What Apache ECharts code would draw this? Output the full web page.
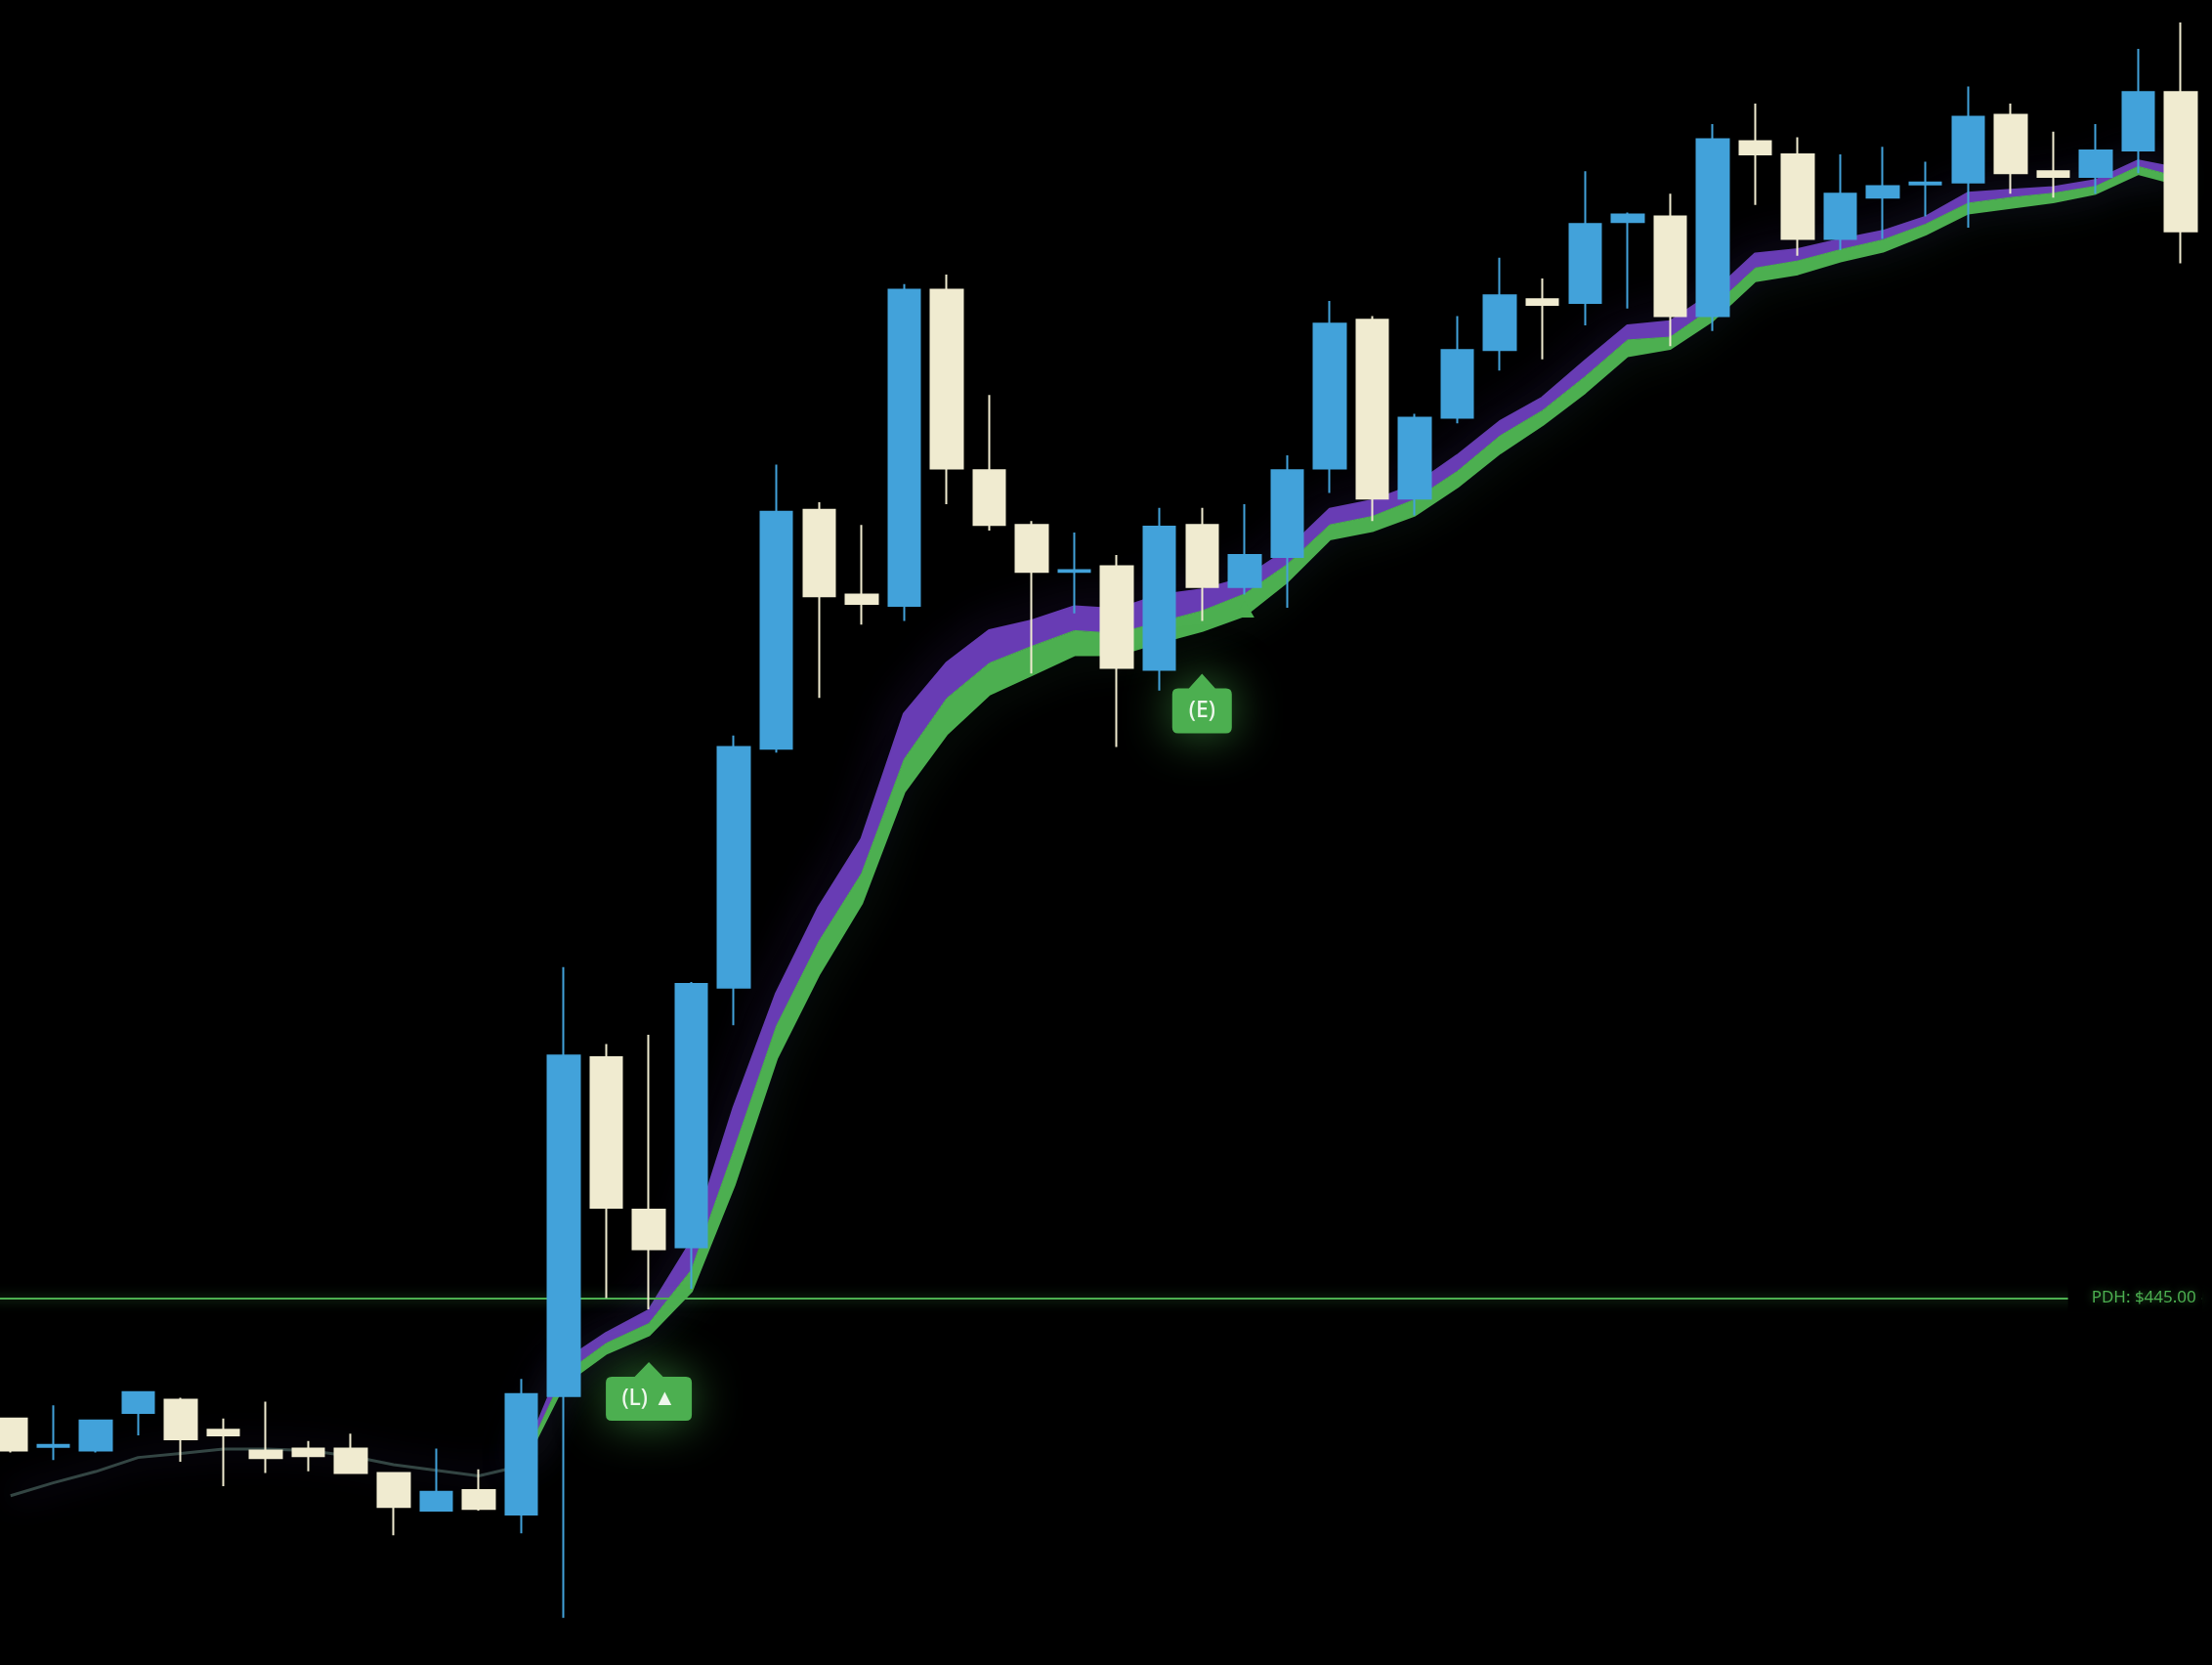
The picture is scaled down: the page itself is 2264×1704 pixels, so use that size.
<!DOCTYPE html>
<html>
<head>
<meta charset="utf-8">
<script src="https://cdn.jsdelivr.net/npm/echarts@6/dist/echarts.min.js"></script>
<style>
html,body{margin:0;padding:0;background:#000;overflow:hidden;width:2264px;height:1704px;}
#c{position:absolute;left:-11px;top:0;width:2275px;height:1704px;}
</style>
</head>
<body>
<div id="c"></div>
<script>
// ---- data ----
const categories = ['1','2','3','4','5','6','7','8','9','10','11','12','13','14','15','16','17','18','19','20',
  '21','22','23','24','25','26','27','28','29','30','31','32','33','34','35','36','37','38','39','40',
  '41','42','43','44','45','46','47','48','49','50','51','52'];

const opens = [444.36,444.21,444.19,444.39,444.46,444.30,444.19,444.20,444.20,444.07,443.87,443.98,443.85,444.48,446.28,445.47,445.27,446.65,447.92,449.19,
  448.74,448.68,450.36,449.40,449.11,448.86,448.89,448.34,449.11,448.78,448.94,449.41,450.20,449.25,449.68,450.04,450.31,450.29,450.72,450.75,
  450.22,451.15,451.08,450.63,450.85,450.92,450.93,451.29,450.99,450.96,451.10,451.41];
const closes = [444.19,444.22,444.35,444.50,444.25,444.27,444.15,444.16,444.07,443.89,443.97,443.88,444.49,446.29,445.48,445.26,446.67,447.93,449.18,448.73,
  448.69,450.36,449.41,449.11,448.86,448.87,448.35,449.10,448.78,448.95,449.40,450.18,449.25,449.68,450.04,450.33,450.28,450.71,450.76,450.22,
  451.16,451.08,450.63,450.87,450.91,450.93,451.28,450.98,450.96,451.10,451.41,450.67];
const lows = [444.18,444.14,444.18,444.27,444.13,444.00,444.07,444.08,444.07,443.74,443.87,443.87,443.75,443.30,445.00,444.94,445.05,446.45,447.90,448.19,
  448.58,448.60,449.22,449.08,448.32,448.64,447.93,448.23,448.60,448.74,448.67,449.28,449.13,449.16,449.65,449.93,449.99,450.17,450.26,450.06,
  450.14,450.81,450.54,450.57,450.63,450.75,450.69,450.87,450.85,450.87,450.98,450.50];
const highs = [444.36,444.43,444.35,444.50,444.47,444.36,444.45,444.24,444.28,444.07,444.20,444.09,444.57,446.76,446.35,446.40,446.68,447.99,449.43,449.23,
  449.11,450.39,450.44,449.80,449.13,449.07,448.95,449.20,449.20,449.22,449.48,450.30,450.22,449.70,450.22,450.53,450.42,450.99,450.77,450.87,
  451.24,451.35,451.17,451.08,451.12,451.04,451.44,451.35,451.20,451.24,451.64,451.78];

// faint moving average before the breakout
const emaFaint = [443.950,444.018,444.078,444.153,444.175,444.198,444.198,444.190,444.160,444.115,444.085,444.055,444.108,
  null,null,null,null,null,null,null,null,null,null,null,null,null,null,null,null,null,null,null,null,null,null,null,null,null,null,null,null,null,null,null,null,null,null,null,null,null,null,null];

// ribbon edges (top of purple, purple/green boundary, bottom of green)
const ribbonTop = [null,null,null,null,null,null,null,null,null,null,null,null,
  444.123,444.663,444.813,444.933,445.300,446.013,446.620,447.078,447.438,448.105,448.375,448.548,448.600,448.675,448.660,448.735,448.765,448.825,
  448.975,449.193,449.238,449.320,449.478,449.658,449.785,449.980,450.168,450.190,450.340,450.550,450.573,450.625,450.670,450.745,450.873,450.888,450.903,450.940,451.045,451.000];
const ribbonMid = [null,null,null,null,null,null,null,null,null,null,null,null,
  444.108,444.595,444.760,444.865,445.150,445.788,446.448,446.898,447.258,447.865,448.188,448.375,448.465,448.548,448.533,448.593,448.653,448.743,
  448.900,449.110,449.155,449.245,449.395,449.583,449.718,449.898,450.093,450.108,450.265,450.475,450.513,450.573,450.625,450.708,450.820,450.850,450.873,450.910,451.015,450.955];
const ribbonBot = [null,null,null,null,null,null,null,null,null,null,null,null,
  444.093,444.543,444.708,444.805,445.038,445.600,446.275,446.725,447.100,447.693,448.000,448.210,448.315,448.420,448.420,448.488,448.548,448.630,
  448.810,449.035,449.080,449.163,449.313,449.493,449.643,449.815,450.010,450.048,450.198,450.408,450.445,450.513,450.565,450.655,450.768,450.798,450.828,450.873,450.978,450.918];

const pdhLevel = 445.00;
const pdhLabel = 'PDH: $445.00';

const signalIndex = [15, 28];
const signalText = ['(L) \u25B2', '(E)'];
const triangleIndex = [29];

const yMin = 443.05, yMax = 451.9;

// ---- build ----
const gap = v => (v == null ? '-' : v);
const candleData = categories.map((c, i) => [opens[i], closes[i], lows[i], highs[i]]);
const greenPart = ribbonBot.map((b, i) => (b == null ? '-' : +(ribbonMid[i] - b).toFixed(4)));
const purplePart = ribbonMid.map((m, i) => (m == null ? '-' : +(ribbonTop[i] - m).toFixed(4)));

const calloutL = 'path://M44 0L58.5 15L82 15Q88 15 88 21L88 54Q88 60 82 60L6 60Q0 60 0 54L0 21Q0 15 6 15L29.5 15Z';
const calloutE = 'path://M30.5 0L44 15L55 15Q61 15 61 21L61 55Q61 61 55 61L6 61Q0 61 0 55L0 21Q0 15 6 15L17 15Z';

const markData = [
  {coord: [signalIndex[0], lows[signalIndex[0]]], symbol: calloutL, symbolSize: [88, 60], symbolOffset: [0, 84],
   label: {formatter: signalText[0]}},
  {coord: [signalIndex[1], lows[signalIndex[1]]], symbol: calloutE, symbolSize: [61, 61], symbolOffset: [0, 84.5],
   label: {formatter: signalText[1]}},
].concat(triangleIndex.map(i => ({
  coord: [i, lows[i]], symbol: 'triangle', symbolSize: [20, 17], symbolOffset: [0, 15],
  label: {show: false}, itemStyle: {shadowBlur: 0}
})));

const chart = echarts.init(document.getElementById('c'), null, {renderer: 'canvas'});
chart.setOption({
  backgroundColor: '#000',
  animation: false,
  grid: {left: 0, right: 10.2, top: 0, bottom: 0},
  xAxis: {type: 'category', data: categories, boundaryGap: true, show: false},
  yAxis: {type: 'value', min: yMin, max: yMax, show: false, splitLine: {show: false}},
  series: [
    { // faint early average + PDH line
      type: 'line', data: emaFaint.map(gap), symbol: 'none', z: 1, silent: true,
      lineStyle: {color: 'rgba(72,98,92,0.7)', width: 3, shadowBlur: 34, shadowColor: 'rgba(95,65,180,0.8)'},
      markLine: {
        silent: true, symbol: ['none', 'none'], animation: false,
        lineStyle: {color: '#4CAF50', width: 2, type: 'solid', shadowBlur: 12, shadowColor: 'rgba(76,175,80,0.8)'},
        label: {show: true, position: 'insideEnd', distance: 0, formatter: pdhLabel,
          color: '#4CAF50', fontSize: 17, fontFamily: 'Noto Sans', backgroundColor: '#000',
          padding: [6, 6, 6, 24], textShadowBlur: 8, textShadowColor: 'rgba(76,175,80,0.6)'},
        emphasis: {disabled: true},
        data: [{yAxis: pdhLevel}]
      }
    },
    { // purple glow above ribbon
      type: 'line', data: ribbonTop.map(gap), symbol: 'none', z: 2, silent: true,
      lineStyle: {color: '#683CB4', width: 3, shadowBlur: 40, shadowColor: 'rgba(120,70,230,1)'}
    },
    { // green glow below ribbon
      type: 'line', data: ribbonBot.map(gap), symbol: 'none', z: 2, silent: true,
      lineStyle: {color: '#4CAF50', width: 3, shadowBlur: 40, shadowColor: 'rgba(70,140,90,0.9)'}
    },
    { // ribbon base
      type: 'line', stack: 'rib', data: ribbonBot.map(gap), symbol: 'none', z: 3, silent: true,
      lineStyle: {width: 0, opacity: 0}
    },
    { // green part
      type: 'line', stack: 'rib', data: greenPart, symbol: 'none', z: 3, silent: true,
      lineStyle: {width: 1, color: '#4CAF50'},
      areaStyle: {color: '#4CAF50', opacity: 1}
    },
    { // purple part
      type: 'line', stack: 'rib', data: purplePart, symbol: 'none', z: 3, silent: true,
      lineStyle: {width: 1, color: '#683CB4'},
      areaStyle: {color: '#683CB4', opacity: 1}
    },
    {
      type: 'candlestick', data: candleData, barWidth: 33, z: 5, silent: true,
      itemStyle: {color: '#42A2DA', color0: '#F0EBD0', borderColor: '#42A2DA', borderColor0: '#F0EBD0', borderWidth: 2},
      markPoint: {
        silent: true, animation: false,
        itemStyle: {color: '#4CAF50', shadowBlur: 50, shadowColor: 'rgba(76,175,80,0.65)'},
        label: {show: true, position: 'inside', offset: [0, 7.5], color: '#EEF7EC', fontSize: 23, fontWeight: 500, fontFamily: 'Noto Sans'},
        data: markData
      }
    }
  ]
});
</script>
</body>
</html>
